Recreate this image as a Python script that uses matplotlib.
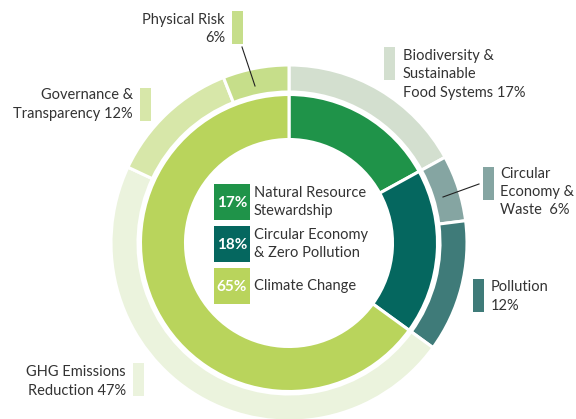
import matplotlib
matplotlib.use("Agg")
from matplotlib import pyplot as plt
from matplotlib.patches import Rectangle

plt.rcParams['font.family'] = ['Lato', 'DejaVu Sans']

# data
inner_names = ["Natural Resource\nStewardship", "Circular Economy\n& Zero Pollution", "Climate Change"]
inner_values = [17, 18, 65]
inner_colors = ["#1f9349", "#05675f", "#b9d45c"]

outer_names = ["Biodiversity &\nSustainable\nFood Systems", "Circular\nEconomy &\nWaste", "Pollution",
               "GHG Emissions\nReduction", "Governance &\nTransparency", "Physical Risk"]
outer_sep = [" ", "  ", "\n", " ", " ", "\n"]
outer_values = [17, 6, 12, 47, 12, 6]
outer_colors = ["#d3dfcf", "#85a5a2", "#3f7b79", "#ebf3dd", "#d7e7a9", "#c6de8a"]

# layout, in pixels (x, top y)
W, H = 576, 419
cx, cy = 289, 243
outer_swatch = [(384, 47), (483, 167), (473, 279), (133, 363), (140, 88), (232, 11)]
outer_text = [(403, 74.5, 'left'), (500, 192, 'left'), (491, 296.5, 'left'),
              (126, 381.5, 'right'), (133, 104.5, 'right'), (225, 29, 'right')]
leaders = {1: ((479, 184), (443, 197)), 5: ((242, 47), (255, 86))}
legend_y = [184, 226, 268]
text_color = "#333333"

fig = plt.figure(figsize=(W / 100, H / 100), dpi=100)

# donut
ax = fig.add_axes([0, 0, 1, 1])
lw = 2.2
ax.pie(outer_values, colors=outer_colors, radius=178, center=(cx, H - cy),
       startangle=90, counterclock=False,
       wedgeprops=dict(width=27, edgecolor='white', linewidth=lw))
ax.pie(inner_values, colors=inner_colors, radius=148.5, center=(cx, H - cy),
       startangle=90, counterclock=False,
       wedgeprops=dict(width=45, edgecolor='white', linewidth=lw))
ax.set_xlim(0, W)
ax.set_ylim(0, H)
ax.axis('off')

# labels
lx = fig.add_axes([0, 0, 1, 1])
lx.set_xlim(0, W)
lx.set_ylim(H, 0)
lx.axis('off')

for i, name in enumerate(outer_names):
    sx, sy = outer_swatch[i]
    lx.add_patch(Rectangle((sx, sy), 11, 33, color=outer_colors[i], lw=0))
    tx, ty, ha = outer_text[i]
    lx.text(tx, ty, f"{name}{outer_sep[i]}{outer_values[i]}%", ha=ha, va='center',
            fontsize=10.5, color=text_color, linespacing=1.38)
    if i in leaders:
        (x0, y0), (x1, y1) = leaders[i]
        lx.plot([x0, x1], [y0, y1], color='#222222', lw=0.8)

for i, name in enumerate(inner_names):
    y = legend_y[i]
    lx.add_patch(Rectangle((214, y), 36, 36, color=inner_colors[i], lw=0))
    lx.text(232, y + 18.5, f"{inner_values[i]}%", ha='center', va='center',
            fontsize=11, fontweight='bold', color='white')
    lx.text(254, y + 18, name, ha='left', va='center', fontsize=10.5,
            color=text_color, linespacing=1.38)

fig.savefig("out.png", dpi=100)
